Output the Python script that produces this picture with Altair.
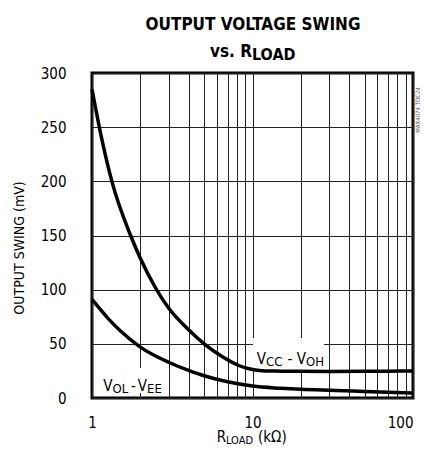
import altair as alt
import pandas as pd

# ---- data ----
r_upper = [1, 1.14, 1.33, 1.74, 2, 2.48, 3, 4, 5, 6.5, 8.2, 10.2, 12, 15, 20, 30, 50, 70, 100]
v_upper = [285, 242, 200, 150, 129, 102, 83, 63, 50, 38, 30, 26, 25, 24.8, 24.6, 24.5, 24.6, 24.8, 25]

r_lower = [1, 1.25, 1.5, 2, 3, 4, 5, 7, 10, 15, 20, 33, 50, 100]
v_lower = [91, 74, 62, 47, 33, 25.5, 20.5, 15, 11, 9, 8, 7, 6, 4.5]

x_grid_values = [1, 2, 3, 4, 5, 6, 7, 8, 9, 10, 20, 30, 40, 50, 60, 70, 80, 90, 100]
y_tick_values = [0, 50, 100, 150, 200, 250, 300]

FONT = "DejaVu Sans Condensed, Liberation Sans Narrow, sans-serif"

df = pd.concat([
    pd.DataFrame({"r": r_upper, "v": v_upper, "s": "VCC - VOH"}),
    pd.DataFrame({"r": r_lower, "v": v_lower, "s": "VOL - VEE"}),
])

W, H = 321, 325

lines = alt.Chart(df).mark_line(color="black", strokeWidth=3.5, interpolate="monotone").encode(
    x=alt.X("r:Q",
            scale=alt.Scale(type="log", domain=[1, 100], nice=False),
            axis=alt.Axis(values=x_grid_values,
                          labelExpr="(datum.value == 1 || datum.value == 10 || datum.value == 100) ? datum.label : ''",
                          labelAlign={"expr": "datum.value == 100 ? 'right' : 'center'"},
                          labelOverlap=False, labelFlush=False,
                          grid=True, ticks=False, domain=False, title=None,
                          labelPadding=17, labelFontSize=15, labelFont=FONT,
                          labelColor="black", gridColor="#222", gridWidth=1, gridOpacity=1)),
    y=alt.Y("v:Q",
            scale=alt.Scale(domain=[0, 300], nice=False),
            axis=alt.Axis(values=y_tick_values, grid=True, ticks=False, domain=False, title=None,
                          labelPadding=26, labelFontSize=15, labelFont=FONT, labelColor="black",
                          gridColor="#222", gridWidth=1, gridOpacity=1)),
    detail="s:N",
)

one = alt.Data(values=[{}])


def txt(s, x, y, size, align="left", weight="normal", angle=0, color="black", baseline="alphabetic"):
    return alt.Chart(one).mark_text(
        text=s, align=align, baseline=baseline, fontSize=size, fontWeight=weight,
        font=FONT, angle=angle, color=color
    ).encode(x=alt.value(x), y=alt.value(y))


def box(x1, x2, y1, y2):
    return alt.Chart(one).mark_rect(color="white").encode(
        x=alt.value(x1), x2=alt.value(x2), y=alt.value(y1), y2=alt.value(y2))


layers = [
    box(161, 232, 265, 297),
    box(6, 73, 295, 320),
    lines,
    # title
    txt("OUTPUT VOLTAGE SWING", 161, -43, 17, align="center", weight="bold"),
    txt("vs. R", 160, -16, 17, align="right", weight="bold"),
    txt("LOAD", 160, -13, 16, align="left", weight="bold"),
    # curve labels
    txt("V", 174, 290.5, 15, align="right"),
    txt("CC", 174, 292.5, 13),
    txt("-", 198, 290.5, 15, align="center"),
    txt("V", 214, 290.5, 15, align="right"),
    txt("OH", 214, 292.5, 13),
    txt("V", 20.5, 318, 15, align="right"),
    txt("OL", 20.5, 320, 13),
    txt("-", 41.5, 318, 15, align="center"),
    txt("V", 55, 318, 15, align="right"),
    txt("EE", 55, 320, 13),
    # axis titles
    txt("OUTPUT SWING (mV)", -72, 175, 14, align="center", angle=270, baseline="middle"),
    txt("R", 134, 369, 15, align="right"),
    txt("LOAD", 134, 371, 11),
    txt("(kΩ)", 166, 369, 15),
    # side code
    txt("MAX4074 TOC24", 325.5, 37, 6, align="center", angle=270, baseline="middle", color="#555"),
]

chart = alt.layer(*layers).properties(
    width=W, height=H,
    padding={"left": 84, "top": 65, "right": 7, "bottom": 51},
    autosize="none",
).configure_view(stroke="black", strokeWidth=3)

chart.save("out.html", embed_options={"renderer": "svg", "actions": False})
